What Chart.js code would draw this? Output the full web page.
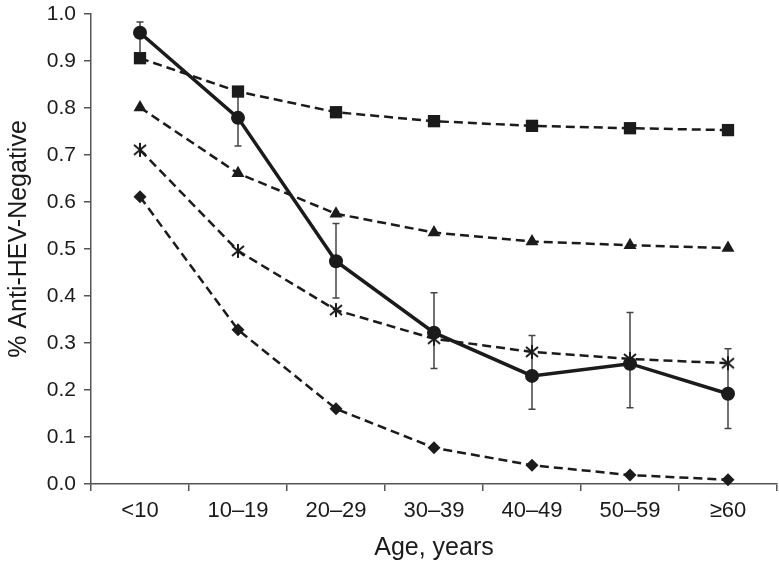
<!DOCTYPE html>
<html lang="en">
<head>
<meta charset="UTF-8">
<title>Anti-HEV-Negative by age</title>
<script src="https://cdn.jsdelivr.net/npm/chart.js"></script>
<style>
  html, body { margin: 0; padding: 0; background: #fff; }
  #wrap { width: 779px; height: 565px; }
</style>
</head>
<body>
<div id="wrap"><canvas id="chart" width="779" height="565"></canvas></div>
<script>
  // categories and series
  const ageGroups = ['<10', '10–19', '20–29', '30–39', '40–49', '50–59', '≥60'];
  const observed     = [0.960, 0.779, 0.474, 0.322, 0.230, 0.256, 0.192];
  const observedLow  = [0.910, 0.719, 0.396, 0.246, 0.159, 0.162, 0.118];
  const observedHigh = [0.983, 0.830, 0.554, 0.407, 0.316, 0.365, 0.288];
  const squares   = [0.906, 0.835, 0.791, 0.772, 0.762, 0.757, 0.753];
  const triangles = [0.801, 0.661, 0.575, 0.535, 0.516, 0.508, 0.502];
  const stars     = [0.711, 0.496, 0.370, 0.309, 0.281, 0.266, 0.257];
  const diamonds  = [0.611, 0.328, 0.160, 0.077, 0.040, 0.019, 0.009];

  const ink = '#1b1b1b';
  const axisColor = '#555';
  const fontFamily = '"Liberation Sans", Arial, Helvetica, sans-serif';
  const yTitle = '% Anti-HEV-Negative';
  const xTitle = 'Age, years';

  // six-armed asterisk marker
  function asteriskMarker() {
    const c = document.createElement('canvas');
    c.width = 16; c.height = 16;
    const g = c.getContext('2d');
    g.strokeStyle = ink;
    g.lineWidth = 2;
    g.beginPath();
    g.moveTo(8, 1); g.lineTo(8, 15);
    g.moveTo(2, 3); g.lineTo(14, 13);
    g.moveTo(14, 3); g.lineTo(2, 13);
    g.stroke();
    return c;
  }

  // error bars on the observed series
  const errorBars = {
    id: 'errorBars',
    beforeDatasetsDraw(chart) {
      const { ctx, scales: { x, y } } = chart;
      ctx.save();
      ctx.strokeStyle = '#444';
      ctx.lineWidth = 1.5;
      observed.forEach((v, i) => {
        const px = x.getPixelForValue(i);
        const top = y.getPixelForValue(observedHigh[i]);
        const bot = y.getPixelForValue(observedLow[i]);
        ctx.beginPath();
        ctx.moveTo(px, top); ctx.lineTo(px, bot);
        ctx.moveTo(px - 3.5, top); ctx.lineTo(px + 3.5, top);
        ctx.moveTo(px - 3.5, bot); ctx.lineTo(px + 3.5, bot);
        ctx.stroke();
      });
      ctx.restore();
    }
  };

  // y title sits a little above the plot middle in the original
  const yTitlePlugin = {
    id: 'yTitle',
    afterDraw(chart) {
      const { ctx, chartArea } = chart;
      ctx.save();
      ctx.translate(19, (chartArea.top + chartArea.bottom) / 2 - 10);
      ctx.rotate(-Math.PI / 2);
      ctx.font = '25px ' + fontFamily;
      ctx.fillStyle = ink;
      ctx.textAlign = 'center';
      ctx.textBaseline = 'middle';
      ctx.fillText(yTitle, 0, 0);
      ctx.restore();
    }
  };

  const dashed = {
    borderColor: ink,
    backgroundColor: ink,
    pointBackgroundColor: ink,
    pointBorderColor: ink,
    borderWidth: 2.5,
    borderDash: [9, 5],
    pointBorderWidth: 0,
    tension: 0,
    clip: false
  };

  new Chart(document.getElementById('chart'), {
    type: 'line',
    data: {
      labels: ageGroups,
      datasets: [
        {
          data: observed,
          borderColor: ink,
          backgroundColor: ink,
          pointBackgroundColor: ink,
          borderWidth: 3.5,
          pointStyle: 'circle',
          pointRadius: 7,
          pointBorderWidth: 0,
          tension: 0,
          clip: false
        },
        { ...dashed, data: squares, pointStyle: 'rect', pointRadius: 8.7 },
        { ...dashed, data: triangles, pointStyle: 'triangle', pointRadius: 7.5 },
        { ...dashed, data: stars, pointStyle: asteriskMarker(), pointRadius: 8 },
        { ...dashed, data: diamonds, pointStyle: 'rectRot', pointRadius: 6.5 }
      ]
    },
    options: {
      responsive: false,
      animation: false,
      layout: { autoPadding: false, padding: { top: 14, right: 2, left: 0, bottom: 0 } },
      plugins: { legend: { display: false }, tooltip: { enabled: false } },
      scales: {
        x: {
          offset: true,
          afterFit(scale) { scale.height = 81; scale.paddingLeft = 0; scale.paddingRight = 0; },
          grid: { offset: true, drawOnChartArea: false, drawTicks: true, tickLength: 7, color: axisColor, lineWidth: 1.5 },
          border: { display: true, color: axisColor, width: 1.5 },
          ticks: { color: ink, padding: 7, maxRotation: 0, font: { family: fontFamily, size: 22 } },
          title: { display: true, text: xTitle, color: ink, padding: { top: 0, bottom: 2 }, font: { family: fontFamily, size: 25 } }
        },
        y: {
          min: 0,
          max: 1,
          afterFit(scale) { scale.width = 91; scale.paddingTop = 0; scale.paddingBottom = 0; },
          ticks: {
            stepSize: 0.1,
            color: ink,
            padding: 8,
            font: { family: fontFamily, size: 21 },
            callback: v => v.toFixed(1)
          },
          grid: { drawOnChartArea: false, drawTicks: true, tickLength: 7, color: axisColor, lineWidth: 1.5 },
          border: { display: true, color: axisColor, width: 1.5 }
        }
      }
    },
    plugins: [errorBars, yTitlePlugin]
  });
</script>
</body>
</html>
